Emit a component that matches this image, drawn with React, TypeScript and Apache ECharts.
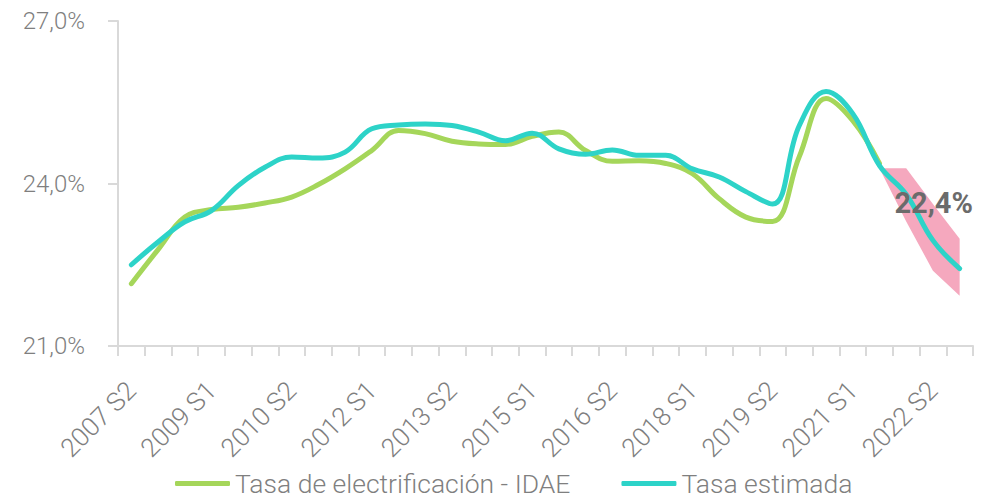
import React, { useEffect, useRef } from "react";
import * as echarts from "echarts";

const categories = [
  "2007 S2", "2008 S1", "2008 S2", "2009 S1", "2009 S2", "2010 S1", "2010 S2", "2011 S1",
  "2011 S2", "2012 S1", "2012 S2", "2013 S1", "2013 S2", "2014 S1", "2014 S2", "2015 S1",
  "2015 S2", "2016 S1", "2016 S2", "2017 S1", "2017 S2", "2018 S1", "2018 S2", "2019 S1",
  "2019 S2", "2020 S1", "2020 S2", "2021 S1", "2021 S2", "2022 S1", "2022 S2", "2023 S1",
];

const idae: (number | string)[] = [
  22.15, 22.78, 23.38, 23.52, 23.56, 23.64, 23.75, 23.98, 24.27, 24.61, 24.98, 24.92,
  24.78, 24.73, 24.72, 24.87, 24.95, 24.61, 24.41, 24.42, 24.37, 24.18, 23.72, 23.38,
  23.3, 24.5, 25.57, 25.16, 24.37, "-", "-", "-",
];

const estimada: number[] = [
  22.5, 22.92, 23.29, 23.5, 23.96, 24.3, 24.49, 24.47, 24.58, 25.01, 25.08, 25.1,
  25.07, 24.95, 24.79, 24.93, 24.64, 24.54, 24.62, 24.52, 24.52, 24.27, 24.12, 23.85,
  23.62, 25.07, 25.7, 25.29, 24.33, 23.8, 22.95, 22.43,
];

const bandLower: (number | string)[] = [
  "-", "-", "-", "-", "-", "-", "-", "-", "-", "-", "-", "-", "-", "-", "-", "-",
  "-", "-", "-", "-", "-", "-", "-", "-", "-", "-", "-", "-", 24.28, 23.3, 22.39, 21.93,
];
const bandUpper: (number | string)[] = [
  "-", "-", "-", "-", "-", "-", "-", "-", "-", "-", "-", "-", "-", "-", "-", "-",
  "-", "-", "-", "-", "-", "-", "-", "-", "-", "-", "-", "-", 24.28, 24.28, 23.62, 22.98,
];

const yTicks = [21, 24, 27];

const fmt = (v: number) => v.toFixed(1).replace(".", ",") + "%";

export default function App() {
  const ref = useRef<HTMLDivElement>(null);
  useEffect(() => {
    document.body.style.margin = "0";
    if (!ref.current) return;
    const chart = echarts.init(ref.current, null, { renderer: "svg" });
    const font = "Roboto";
    const grey = "#7f7f7f";
    const axisCol = "#d9d9d9";
    const bandDiff = bandUpper.map((u, i) =>
      typeof u === "number" && typeof bandLower[i] === "number"
        ? +(u - (bandLower[i] as number)).toFixed(3)
        : "-"
    );
    const last = estimada.length - 1;
    chart.setOption({
      animation: false,
      textStyle: { fontFamily: font },
      grid: { left: 118, right: 18, top: 21, bottom: 155, containLabel: false },
      legend: {
        data: ["Tasa de electrificación - IDAE", "Tasa estimada"],
        left: 170,
        top: 465,
        icon: "roundRect",
        itemWidth: 55,
        itemHeight: 5,
        itemGap: 51,
        textStyle: { fontSize: 26.5, lineHeight: 26, color: grey, fontFamily: font, fontWeight: 300 },
      },
      xAxis: {
        type: "category",
        data: categories,
        boundaryGap: true,
        axisLine: { lineStyle: { color: axisCol, width: 2 } },
        axisTick: { show: true, interval: 0, length: 10, lineStyle: { color: axisCol, width: 2 } },
        axisLabel: {
          interval: 2,
          rotate: 45,
          fontSize: 26,
          fontWeight: 300,
          color: grey,
          margin: 40,
          fontFamily: font,
        },
      },
      yAxis: {
        type: "value",
        min: yTicks[0],
        max: yTicks[yTicks.length - 1],
        interval: 3,
        splitLine: { show: false },
        axisLine: { show: true, lineStyle: { color: axisCol, width: 2 } },
        axisTick: { show: true, length: 10, lineStyle: { color: axisCol, width: 2 } },
        axisLabel: {
          fontSize: 24,
          fontWeight: 300,
          color: grey,
          margin: 33,
          fontFamily: font,
          formatter: (v: number) => fmt(v),
        },
      },
      series: [
        {
          name: "bandBase",
          type: "line",
          stack: "band",
          data: bandLower,
          symbol: "none",
          lineStyle: { opacity: 0 },
          silent: true,
          z: 1,
        },
        {
          name: "band",
          type: "line",
          stack: "band",
          data: bandDiff,
          symbol: "none",
          lineStyle: { opacity: 0 },
          areaStyle: { color: "#f5a8be", opacity: 1 },
          silent: true,
          z: 1,
        },
        {
          name: "Tasa de electrificación - IDAE",
          type: "line",
          data: idae,
          smooth: 0.4,
          symbol: "none",
          itemStyle: { color: "#a5d65a" },
          lineStyle: { color: "#a5d65a", width: 5, cap: "round" },
          z: 3,
        },
        {
          name: "Tasa estimada",
          type: "line",
          data: estimada,
          smooth: 0.4,
          symbol: "none",
          itemStyle: { color: "#2dd3c8" },
          lineStyle: { color: "#2dd3c8", width: 5, cap: "round" },
          z: 4,
          markPoint: {
            symbol: "circle",
            symbolSize: 1,
            itemStyle: { color: "rgba(0,0,0,0)" },
            label: {
              show: true,
              position: "top",
              offset: [-26, -46],
              fontSize: 29,
              fontWeight: "bold",
              color: "#6b6b6b",
              fontFamily: font,
              formatter: (p: any) => fmt(p.value),
            },
            data: [{ coord: [categories[last], estimada[last]], value: estimada[last] }],
          },
        },
      ],
    });
    return () => chart.dispose();
  }, []);
  return <div ref={ref} style={{ width: 991, height: 501 }} />;
}
